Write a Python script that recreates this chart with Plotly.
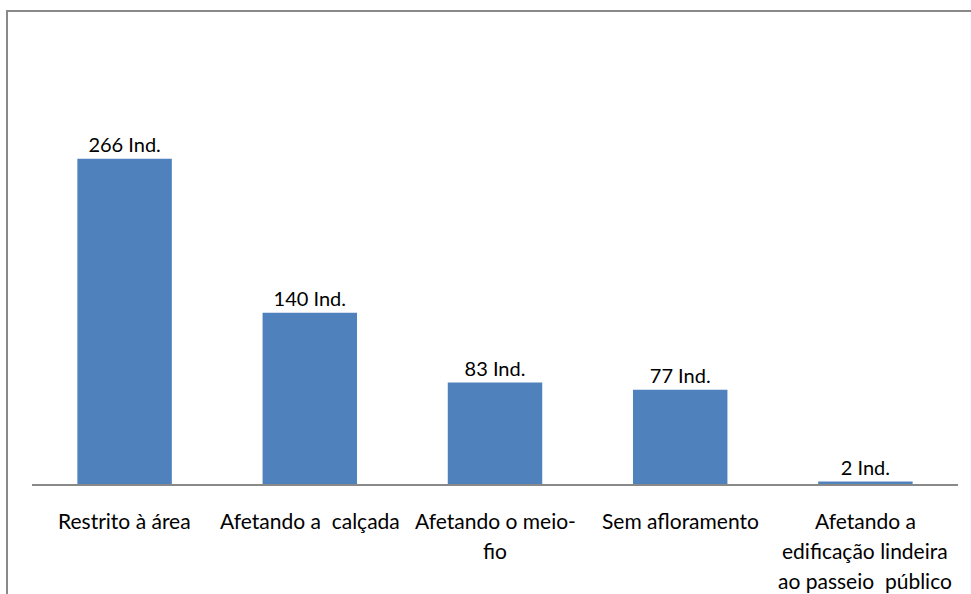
import plotly.graph_objects as go

# Category names (one entry per line of the wrapped label) and counts
categories = ["Restrito à área", "Afetando a calçada", "Afetando o meio-fio",
              "Sem afloramento", "Afetando a edificação lindeira ao passeio público"]
label_lines = [
    ["Restrito à área"],
    ["Afetando a  calçada"],
    ["Afetando o meio-", "fio"],
    ["Sem afloramento"],
    ["Afetando a", "edificação lindeira", "ao passeio  público"],
]
counts = [266, 140, 83, 77, 2]
value_labels = [f"{v} Ind." for v in counts]

W, H = 971, 594
L, R, T, B = 32, 13, 11, 110
pw, ph = W - L - R, H - T - B
px_per_unit = 1.2229
ymax = ph / px_per_unit

FONT = "Lato"
VALUE_SIZE = 20
CAT_SIZE = 21
BAR_COLOR = "#4F81BD"
GRAY = "#898989"

fig = go.Figure(go.Bar(
    x=categories,
    y=counts,
    width=0.51,
    marker=dict(color=BAR_COLOR, line=dict(width=0)),
    text=value_labels,
    textposition="outside",
    textfont=dict(family=FONT, size=VALUE_SIZE, color="#000000"),
    cliponaxis=False,
))

# Wrapped category labels below the baseline
annotations = []
for cat, lines in zip(categories, label_lines):
    for i, line in enumerate(lines):
        annotations.append(dict(
            x=cat, xref="x", y=0, yref="paper",
            text=line, showarrow=False,
            xanchor="center", yanchor="middle",
            yshift=-(36 + 30 * i),
            font=dict(family=FONT, size=CAT_SIZE, color="#000000"),
        ))

# Outer chart frame (extends past the right and bottom edges)
def px_x(x):
    return (x - L) / pw

def px_y(y):
    return (H - B - y) / ph

frame = dict(
    type="rect", xref="paper", yref="paper",
    x0=px_x(7), x1=px_x(980), y0=px_y(610), y1=px_y(11),
    line=dict(color=GRAY, width=2), fillcolor="rgba(0,0,0,0)", layer="above",
)

fig.update_layout(
    width=W, height=H,
    margin=dict(l=L, r=R, t=T, b=B, pad=0),
    paper_bgcolor="white", plot_bgcolor="white",
    showlegend=False,
    font=dict(family=FONT, color="#000000"),
    xaxis=dict(showticklabels=False, showline=True, linecolor=GRAY,
               linewidth=1.5, ticks="", showgrid=False, zeroline=False,
               fixedrange=True),
    yaxis=dict(range=[0, ymax], visible=False, showgrid=False,
               zeroline=False, fixedrange=True),
    annotations=annotations,
    shapes=[frame],
    bargap=0.49,
)

fig.write_html("out.html")
